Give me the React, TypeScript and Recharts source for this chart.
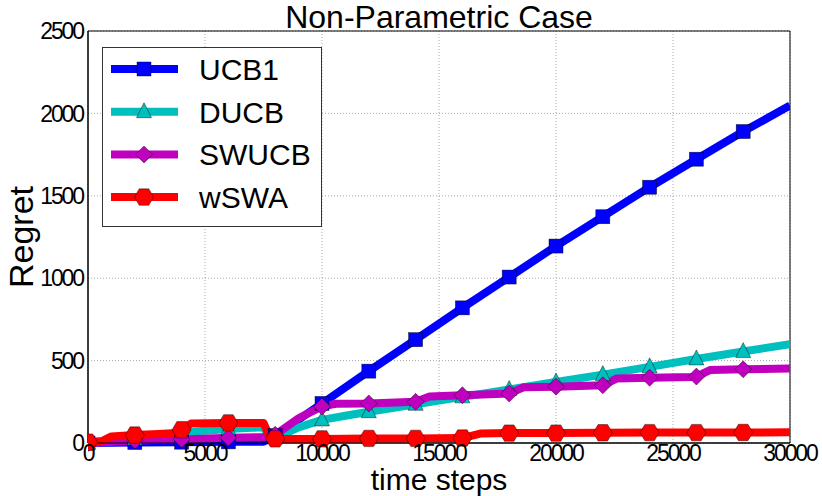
import React from 'react'
import {
  LineChart,
  Line,
  XAxis,
  YAxis,
  CartesianGrid,
  ReferenceArea,
} from 'recharts'

// UCB1
const ucbSteps = [0, 2000, 4000, 6000, 7500, 8000, 10000, 12000, 14000, 16000, 18000, 20000, 22000, 24000, 26000, 28000, 30000]
const ucbRegret = [0, 3, 5, 7, 8, 45, 240, 436, 627, 820, 1007, 1195, 1373, 1552, 1722, 1890, 2048]

// DUCB
const ducbSteps = [0, 1000, 2000, 3000, 4000, 5000, 6000, 7000, 7500, 7800, 8000, 9000, 10000, 11000, 12000, 14000, 16000, 18000, 20000, 22000, 24000, 26000, 28000, 30000]
const ducbRegret = [0, 10, 25, 42, 60, 75, 85, 92, 95, 30, 30, 95, 140, 165, 190, 235, 280, 325, 370, 415, 462, 510, 555, 600]

// SWUCB
const swucbSteps = [0, 1000, 2000, 4000, 6000, 7500, 8000, 9000, 10000, 10600, 12000, 14000, 14600, 16000, 18000, 18600, 20000, 22000, 22600, 24000, 25800, 26000, 26600, 28000, 30000]
const swucbRegret = [0, 8, 15, 22, 32, 35, 50, 150, 222, 238, 240, 250, 282, 290, 300, 338, 342, 350, 392, 396, 400, 403, 443, 447, 452]

// wSWA
const wswaSteps = [0, 600, 1000, 2000, 3000, 3800, 4000, 4400, 6000, 7500, 7800, 8000, 10000, 12000, 14000, 16000, 16800, 18000, 20000, 22000, 24000, 26000, 28000, 30000]
const wswaRegret = [5, 12, 40, 48, 55, 60, 80, 118, 122, 122, 25, 25, 25, 28, 28, 30, 58, 60, 60, 62, 63, 63, 64, 65]

const xTicks = [0, 5000, 10000, 15000, 20000, 25000, 30000]
const yTicks = [0, 500, 1000, 1500, 2000, 2500]

const toRows = (steps: number[], values: number[]) =>
  steps.map((step, i) => ({ step, regret: values[i] }))

type MarkerKind = 'square' | 'triangle' | 'diamond' | 'hexagon'

const Marker = ({ kind, cx, cy, fill }: { kind: MarkerKind; cx: number; cy: number; fill: string }) => {
  const edge = { stroke: '#000', strokeWidth: 0.6, strokeOpacity: 0.7 }
  if (kind === 'square') {
    return <rect x={cx - 7} y={cy - 7} width={14} height={14} fill={fill} {...edge} />
  }
  if (kind === 'triangle') {
    return <polygon points={`${cx},${cy - 9} ${cx + 7.5},${cy + 6} ${cx - 7.5},${cy + 6}`} fill={fill} {...edge} />
  }
  if (kind === 'diamond') {
    return <polygon points={`${cx},${cy - 8.5} ${cx + 8.5},${cy} ${cx},${cy + 8.5} ${cx - 8.5},${cy}`} fill={fill} {...edge} />
  }
  const r = 9.5
  const h = r * 0.866
  return (
    <polygon
      points={`${cx - r},${cy} ${cx - r / 2},${cy - h} ${cx + r / 2},${cy - h} ${cx + r},${cy} ${cx + r / 2},${cy + h} ${cx - r / 2},${cy + h}`}
      fill={fill}
      {...edge}
    />
  )
}

const series = [
  { name: 'UCB1', color: '#0000ff', kind: 'square' as MarkerKind, rows: toRows(ucbSteps, ucbRegret) },
  { name: 'DUCB', color: '#00bfbf', kind: 'triangle' as MarkerKind, rows: toRows(ducbSteps, ducbRegret) },
  { name: 'SWUCB', color: '#bf00bf', kind: 'diamond' as MarkerKind, rows: toRows(swucbSteps, swucbRegret) },
  { name: 'wSWA', color: '#ff0000', kind: 'hexagon' as MarkerKind, rows: toRows(wswaSteps, wswaRegret) },
]

const font = '"Liberation Sans", Arial, sans-serif'
const tickStyle = { fontSize: 23, fill: '#000', fontFamily: font, letterSpacing: -2.1 }

// markers only every 2000 steps, like the plot's markevery
const makeDot = (kind: MarkerKind, color: string) => (props: any) => {
  const { cx, cy, payload, index } = props
  if (payload.step % 2000 !== 0 || payload.step > 28000) return <g key={`d-${index}`} />
  return (
    <g key={`d-${index}`}>
      <Marker kind={kind} cx={cx} cy={cy} fill={color} />
    </g>
  )
}

const LegendBox = () => (
  <div
    style={{
      position: 'absolute',
      left: 102,
      top: 47,
      width: 220,
      height: 180,
      background: '#fff',
      border: '1px solid #333',
      boxSizing: 'border-box',
    }}
  >
    <svg width={220} height={180} style={{ position: 'absolute', left: -1, top: -1 }}>
      {series.map((s, i) => {
        const y = 22 + i * 42.7
        return (
          <g key={s.name}>
            <line x1={9} x2={76} y1={y} y2={y} stroke={s.color} strokeWidth={8} />
            <Marker kind={s.kind} cx={42} cy={y} fill={s.color} />
            <text x={97} y={y + 11} fontSize={30} fontFamily={font} fill="#000">
              {s.name}
            </text>
          </g>
        )
      })}
    </svg>
  </div>
)

const App: React.FC = () => {
  return (
    <div style={{ position: 'absolute', left: 0, top: 0, width: 822, height: 496, background: '#fff' }}>
      <LineChart width={822} height={496} margin={{ top: 31, right: 32, left: 0, bottom: 0 }}>
        <CartesianGrid stroke="#aaa" strokeDasharray="1 2" />
        <XAxis
          dataKey="step"
          type="number"
          domain={[0, 30000]}
          ticks={xTicks}
          allowDataOverflow
          height={53}
          tickSize={0}
          tickMargin={2}
          axisLine={{ stroke: '#000' }}
          tick={tickStyle}
          label={{ value: 'time steps', position: 'insideBottom', offset: 6, fontSize: 30, fill: '#000', fontFamily: font }}
        />
        <YAxis
          dataKey="regret"
          type="number"
          domain={[0, 2500]}
          ticks={yTicks}
          width={88}
          tickSize={0}
          tickMargin={5}
          axisLine={{ stroke: '#000' }}
          tick={tickStyle}
          label={{
            value: 'Regret',
            angle: -90,
            position: 'insideLeft',
            offset: 21,
            fontSize: 34,
            fill: '#000',
            fontFamily: font,
            style: { textAnchor: 'middle' },
          }}
        />
        <ReferenceArea x1={0} x2={30000} y1={0} y2={2500} fill="none" stroke="#000" strokeWidth={1} />
        {series.map(s => (
          <Line
            key={s.name}
            data={s.rows}
            dataKey="regret"
            name={s.name}
            type="linear"
            stroke={s.color}
            strokeWidth={8}
            strokeLinejoin="round"
            dot={makeDot(s.kind, s.color)}
            activeDot={false}
            isAnimationActive={false}
          />
        ))}
        <text x={439} y={28} textAnchor="middle" fontSize={32} fontFamily={font} fill="#000">
          Non-Parametric Case
        </text>
      </LineChart>
      <LegendBox />
    </div>
  )
}

export default App
